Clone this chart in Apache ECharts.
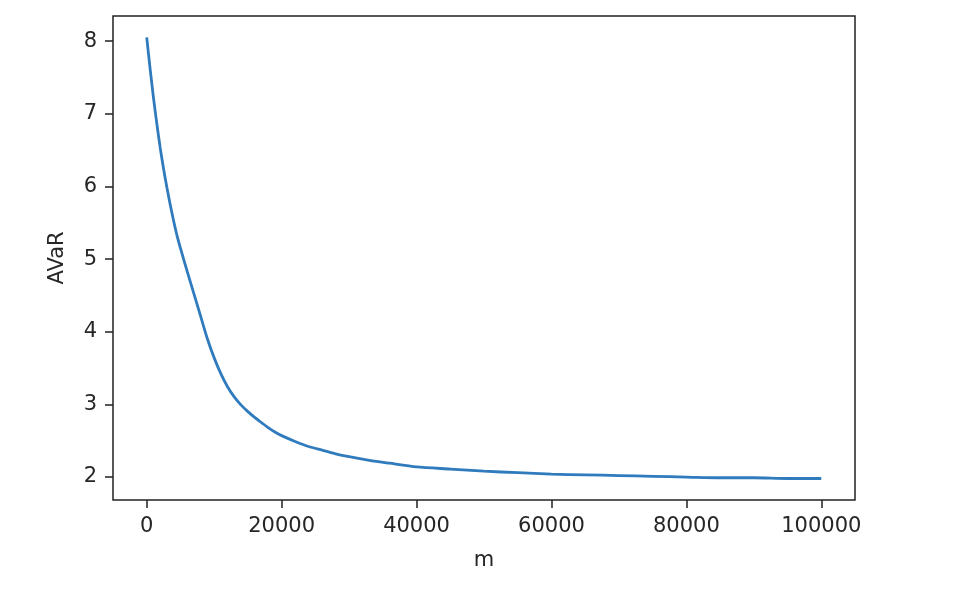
<!DOCTYPE html>
<html>
<head>
<meta charset="utf-8">
<script src="https://cdn.jsdelivr.net/npm/echarts@6/dist/echarts.min.js"></script>
<style>html,body{margin:0;padding:0;background:#fff;}#chart{width:954px;height:598px;}</style>
</head>
<body>
<div id="chart"></div>
<script>
const mValues = [0, 500, 1000, 1500, 2000, 2500, 3000, 3500, 4000, 4500, 5000, 6000, 7000, 8000, 9000, 10000, 11000, 12000, 13000, 14000, 15000, 16000, 17000, 18000, 19000, 20000, 22000, 24000, 26000, 28000, 30000, 33000, 36000, 40000, 45000, 50000, 55000, 60000, 65000, 70000, 75000, 80000, 85000, 90000, 95000, 100000];
const avarValues = [8.05, 7.62, 7.22, 6.86, 6.53, 6.24, 5.98, 5.74, 5.52, 5.32, 5.15, 4.83, 4.52, 4.21, 3.90, 3.64, 3.42, 3.24, 3.10, 2.99, 2.90, 2.82, 2.75, 2.68, 2.62, 2.57, 2.49, 2.42, 2.37, 2.32, 2.28, 2.23, 2.19, 2.14, 2.11, 2.08, 2.06, 2.04, 2.03, 2.02, 2.01, 2.00, 1.99, 1.99, 1.98, 1.98];
const xTicks = [0, 20000, 40000, 60000, 80000, 100000];
const yTicks = [2, 3, 4, 5, 6, 7, 8];

const chart = echarts.init(document.getElementById('chart'));
const font = 'DejaVu Sans';
const txt = '#262626';
chart.setOption({
  animation: false,
  backgroundColor: '#fff',
  grid: { left: 113, right: 99, top: 16, bottom: 98, show: true, borderColor: '#222', borderWidth: 1.5, backgroundColor: 'transparent' },
  xAxis: {
    type: 'value', min: -5000, max: 105000,
    name: 'm', nameLocation: 'middle', nameGap: 50,
    nameTextStyle: { fontFamily: font, fontSize: 21, color: txt },
    axisLine: { show: false, onZero: false },
    axisTick: { show: true, length: 8, lineStyle: { color: '#222', width: 1.5 }, customValues: xTicks },
    axisLabel: { fontFamily: font, fontSize: 21, color: txt, margin: 16, customValues: xTicks, formatter: v => String(v) },
    splitLine: { show: false }
  },
  yAxis: {
    type: 'value', min: 1.684, max: 8.345,
    name: 'AVaR', nameLocation: 'middle', nameGap: 45, nameRotate: 90,
    nameTextStyle: { fontFamily: font, fontSize: 21, color: txt },
    axisLine: { show: false, onZero: false },
    axisTick: { show: true, length: 8, lineStyle: { color: '#222', width: 1.5 }, customValues: yTicks },
    axisLabel: { fontFamily: font, fontSize: 21, color: txt, margin: 16, customValues: yTicks, formatter: v => String(v) },
    splitLine: { show: false }
  },
  series: [{
    type: 'line',
    data: mValues.map((m, i) => [m, avarValues[i]]),
    showSymbol: false,
    smooth: 0.25,
    lineStyle: { color: '#2f7bbd', width: 2.8 }
  }]
});
</script>
</body>
</html>
